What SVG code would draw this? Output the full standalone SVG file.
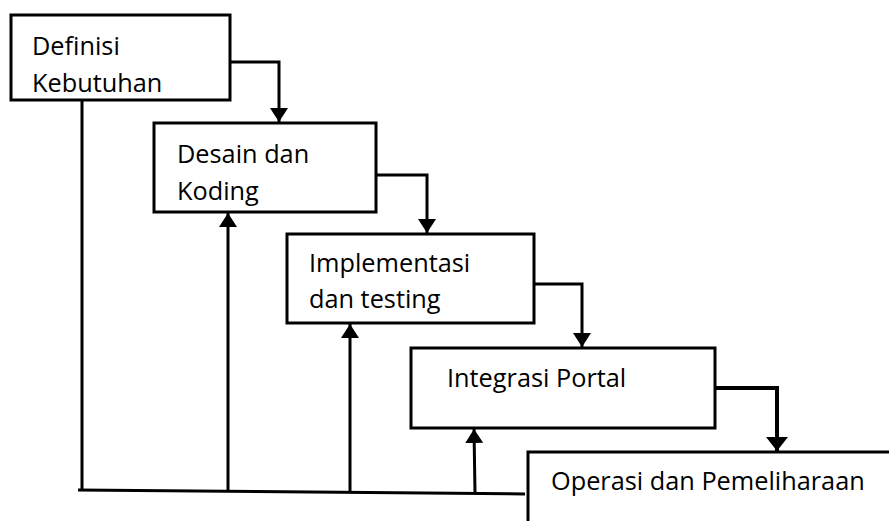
<svg xmlns="http://www.w3.org/2000/svg" width="889" height="521" viewBox="0 0 889 521">
  <style>
    .box { fill: #ffffff; stroke: #000000; stroke-width: 3; }
    .lbl { font-family: "Open Sans", "Liberation Sans", sans-serif; font-size: 25.3px; fill: #000000; }
    .wire { fill: none; stroke: #000000; stroke-width: 3; }
  </style>
  <defs>
    <marker id="head" markerUnits="userSpaceOnUse" markerWidth="20" markerHeight="18" refX="14" refY="9" orient="auto">
      <path d="M0,0 L14,9 L0,18 Z" fill="#000000"/>
    </marker>
    <marker id="headBig" markerUnits="userSpaceOnUse" markerWidth="24" markerHeight="22" refX="14" refY="11" orient="auto">
      <path d="M0,0 L14,11 L0,22 Z" fill="#000000"/>
    </marker>
  </defs>

  <!-- stages -->
  <g id="definisi">
    <rect class="box" x="11" y="15" width="219" height="85"/>
    <text class="lbl" x="32" y="55">Definisi</text>
    <text class="lbl" x="32" y="92">Kebutuhan</text>
  </g>
  <g id="desain">
    <rect class="box" x="154" y="123" width="222" height="89"/>
    <text class="lbl" x="177" y="163">Desain dan</text>
    <text class="lbl" x="177" y="200">Koding</text>
  </g>
  <g id="implementasi">
    <rect class="box" x="287" y="234" width="247" height="89"/>
    <text class="lbl" x="309" y="272">Implementasi</text>
    <text class="lbl" x="309" y="308">dan testing</text>
  </g>
  <g id="integrasi">
    <rect class="box" x="411" y="348" width="304" height="80"/>
    <text class="lbl" x="447" y="387">Integrasi Portal</text>
  </g>
  <g id="operasi">
    <path class="box" d="M528,530 L528,452 L895,452"/>
    <text class="lbl" x="551" y="490">Operasi dan Pemeliharaan</text>
  </g>

  <!-- flow and feedback lines -->
  <g id="connectors">
    <polyline class="wire" points="230,62 279,62 279,122" marker-end="url(#head)"/>
    <polyline class="wire" points="376,175 427,175 427,233" marker-end="url(#head)"/>
    <polyline class="wire" points="534,284 582,284 582,347" marker-end="url(#head)"/>
    <polyline class="wire" style="stroke-width:4" points="715,388 777,388 777,451" marker-end="url(#headBig)"/>

    <line class="wire" x1="82" y1="100" x2="82" y2="490"/>
    <line class="wire" x1="78" y1="490" x2="525" y2="494"/>
    <line class="wire" x1="228" y1="491" x2="228" y2="213" marker-end="url(#head)"/>
    <line class="wire" x1="350" y1="492" x2="350" y2="324" marker-end="url(#head)"/>
    <line class="wire" x1="475" y1="493" x2="474" y2="429" marker-end="url(#head)"/>
  </g>
</svg>
